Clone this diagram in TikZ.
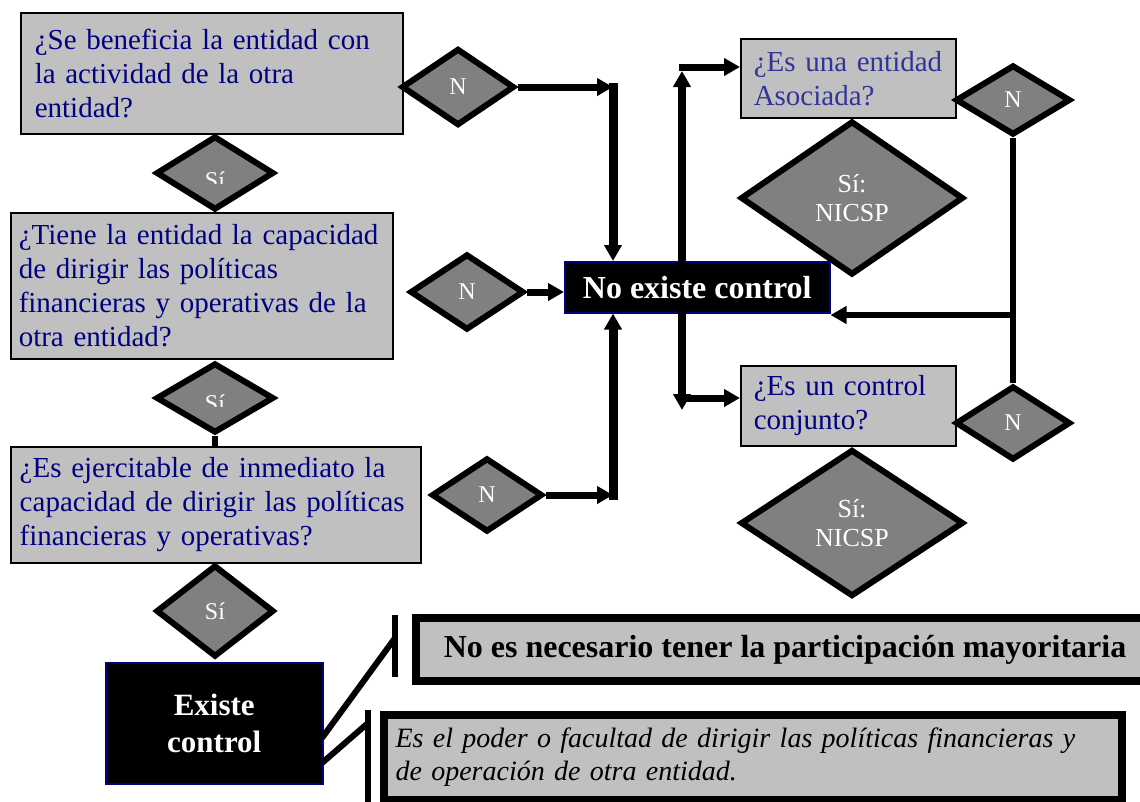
\documentclass[tikz,border=0pt]{standalone}
\usepackage{fontspec}
\setmainfont{Liberation Serif}
\usetikzlibrary{shapes.geometric,arrows.meta}
\definecolor{qnavy}{RGB}{0,0,128}
\definecolor{qblue}{RGB}{51,51,153}
\definecolor{boxgray}{RGB}{192,192,192}
\definecolor{dmdgray}{RGB}{128,128,128}
\def\qf{\fontsize{29}{34}\selectfont}
\def\df{\fontsize{24}{27}\selectfont}

\begin{document}
\begin{tikzpicture}[x=1pt,y=-1pt,
    qbox/.style={draw=black,line width=1.5pt,fill=boxgray,anchor=north west,align=left,text=qnavy,inner ysep=0pt,font=\qf},
    dmd/.style={diamond,draw=black,line width=6pt,fill=dmdgray,inner sep=0pt,aspect=1.5,text=white,align=center,font=\df},
    blk/.style={draw=qnavy,line width=1.5pt,fill=black,text=white,anchor=north west,align=center,inner sep=0pt,font=\fontsize{31}{37}\selectfont\bfseries},
    nota/.style={draw=black,line width=8pt,fill=boxgray,anchor=north west},
    arr/.style={line width=7pt,-{Triangle[length=16pt,width=17pt]}},
    varr/.style={arr,line width=9pt,line cap=rect},
    fat/.style={line width=6pt}]
    \useasboundingbox (0,0) rectangle (1140,801);

    % preguntas
    \node[qbox,text width=354pt,inner xsep=14pt,minimum height=121pt] (q1) at (20,12) {¿Se beneficia la entidad con\\la actividad de la otra\\entidad?};
    \node[qbox,text width=366pt,inner xsep=8pt,minimum height=146pt] (q2) at (10,212) {¿Tiene la entidad la capacidad\\de dirigir las políticas\\financieras y operativas de la\\otra entidad?};
    \node[qbox,text width=392pt,inner xsep=9pt,minimum height=116pt] (q3) at (10,446) {¿Es ejercitable de inmediato la\\capacidad de dirigir las políticas\\financieras y operativas?};
    \node[qbox,text=qblue,text width=189pt,inner xsep=13pt,minimum height=79pt] (qa) at (740,38) {¿Es una entidad\\Asociada?};
    \node[qbox,text width=189pt,inner xsep=13pt,minimum height=80pt] (qc) at (740,365) {¿Es un control\\conjunto?};

    % rombos
    \node[dmd,minimum width=118pt,minimum height=74pt] (si1) at (215,173) {};
    \node[dmd,minimum width=118pt,minimum height=70pt] (si2) at (215,398) {};
    \node[dmd,minimum width=118pt,minimum height=92pt] (si3) at (215,611) {Sí};
    \begin{scope}
      \clip (150,130) rectangle (280,183);
      \node[text=white,font=\df,anchor=base] (si1t) at (215,188) {Sí};
    \end{scope}
    \begin{scope}
      \clip (150,355) rectangle (280,406);
      \node[text=white,font=\df,anchor=base] (si2t) at (215,411) {Sí};
    \end{scope}
    \node[dmd,minimum width=113pt,minimum height=77pt] (n1) at (458,87) {N};
    \node[dmd,minimum width=114pt,minimum height=76pt] (n2) at (467,292) {N};
    \node[dmd,minimum width=111pt,minimum height=74pt] (n3) at (487,495) {N};
    \node[dmd,minimum width=115pt,minimum height=70pt] (nr1) at (1013,100) {N};
    \node[dmd,minimum width=115pt,minimum height=74pt] (nr2) at (1013,423) {N};
    \node[dmd,minimum width=223pt,minimum height=154pt,font=\fontsize{26}{29}\selectfont] (sa) at (852,198) {Sí:\\NICSP};
    \node[dmd,minimum width=223pt,minimum height=147pt,font=\fontsize{26}{29}\selectfont] (sc) at (852,523) {Sí:\\NICSP};

    % resultados
    \node[blk,minimum width=265pt,minimum height=51pt,font=\fontsize{32}{36}\selectfont\bfseries] (noex) at (564,261) {No existe control};
    \node[blk,minimum width=217pt,minimum height=121pt] (ex) at (105,662) {Existe\\control};
    \node[nota,minimum width=738pt,minimum height=63pt,font=\fontsize{32}{36}\selectfont\bfseries] (nota1) at (412,614) {No es necesario tener la participación mayoritaria};
    \node[nota,align=left,text width=714pt,inner xsep=12pt,minimum height=85pt,font=\fontsize{28}{33}\selectfont\itshape] (nota2) at (379.5,711) {Es el poder o facultad de dirigir las políticas financieras y\\de operación de otra entidad.};

    % flechas izquierda
    \coordinate (k1) at (613,87);
    \coordinate (k3) at (613,495);
    \draw[arr] (n1) -- (k1);
    \draw[varr] (k1) -- (k1 |- noex.north);
    \draw[arr] (n2.east) -- (n2.east -| noex.west);
    \draw[arr] (n3) -- (k3);
    \draw[varr] (k3) -- (k3 |- noex.south);
    \draw[fat] (si2) -- (si2 |- q3.north);

    % flechas derecha
    \coordinate (u0) at (682,71);
    \coordinate (u1) at (682,67);
    \coordinate (d0) at (682,410);
    \coordinate (d1) at (682,398);
    \coordinate (r1) at (1013,315);
    \draw[varr,line width=8pt] (u0 |- noex.north) -- (u0);
    \draw[arr,line cap=rect] (u1) -- (u1 -| qa.west);
    \draw[varr,line width=8pt] (d0 |- noex.south) -- (d0);
    \draw[arr,line cap=rect] (d1) -- (d1 -| qc.west);
    \draw[fat] (nr1) -- (nr2);
    \draw[arr,line width=6pt] (r1) -- (r1 -| noex.east);

    % llamadas
    \coordinate (b1t) at (395,615);
    \coordinate (b1b) at (395,677);
    \coordinate (b2t) at (368,710);
    \coordinate (b2b) at (368,805);
    \coordinate (e1) at (322,738);
    \coordinate (e2) at (322,763);
    \coordinate (p1) at (395,638);
    \coordinate (p2) at (368,723);
    \draw[fat] (b1t) -- (b1b);
    \draw[fat] (b2t) -- (b2b);
    \draw[fat] (e1) -- (p1);
    \draw[fat] (e2) -- (p2);
\end{tikzpicture}
\end{document}
